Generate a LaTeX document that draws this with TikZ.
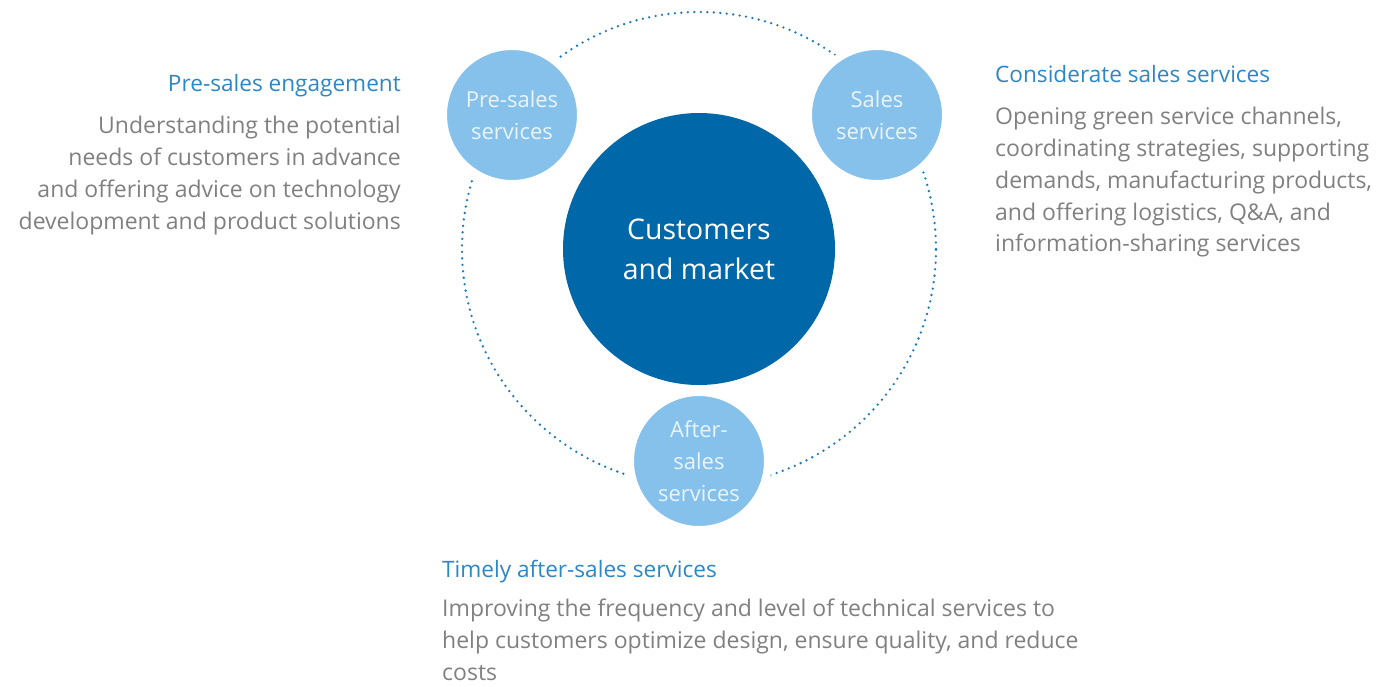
\documentclass[tikz,border=0pt]{standalone}
\usepackage{fontspec}
\setmainfont{Open Sans}
\usetikzlibrary{positioning}
\definecolor{hubblue}{HTML}{0067A8}
\definecolor{satblue}{HTML}{85C1EB}
\definecolor{sattext}{HTML}{EAF4FB}
\definecolor{ringblue}{HTML}{1E78BE}
\definecolor{headblue}{HTML}{2D86C6}
\definecolor{bodygray}{HTML}{808080}
\begin{document}
\begin{tikzpicture}
  [x=1pt,y=-1pt,
   hub/.style={circle,fill=hubblue,text=white,minimum size=272pt,inner sep=0pt,
     align=center,font=\fontsize{28.4}{40}\selectfont},
   sat/.style={circle,fill=satblue,draw=white,line width=8pt,minimum size=138pt,
     inner sep=0pt,text=sattext,align=center,font=\fontsize{22}{32}\selectfont},
   head/.style={inner sep=0pt,text=headblue,font=\fontsize{22.6}{32}\selectfont},
   body/.style={inner sep=0pt,text=bodygray,font=\fontsize{23}{31.8}\selectfont}]
  \useasboundingbox (0,0) rectangle (1377,687);
  % dotted ring
  \draw[ringblue,line width=2.6pt,line cap=round,dash pattern=on 0pt off 6.5pt]
    (699,249) circle (237pt);
  \node[hub] (market) at (699,249) {Customers\\and market};
  \node[sat] (pre) at (512,115) {Pre-sales\\services};
  \node[sat] (sales) at (877,115) {Sales\\services};
  \node[sat] (after) at (699,461) {After-\\sales\\services};
  % texts
  \node[head,anchor=base east] (prehead) at (401,92) {Pre-sales engagement};
  \node[body,below=24pt of prehead.base east,anchor=north east,align=right] (prebody)
    {Understanding the potential\\needs of customers in advance\\and offering advice on technology\\development and product solutions};
  \node[head,anchor=base west] (saleshead) at (995,83) {Considerate sales services};
  \node[body,below=24pt of saleshead.base west,anchor=north west,align=left] (salesbody)
    {Opening green service channels,\\coordinating strategies, supporting\\demands, manufacturing products,\\and offering logistics, Q\&A, and\\information-sharing services};
  \node[head,anchor=base west] (afterhead) at (442,577) {Timely after-sales services};
  \node[body,below=22pt of afterhead.base west,anchor=north west,align=left] (afterbody)
    {Improving the frequency and level of technical services to\\help customers optimize design, ensure quality, and reduce\\costs};
\end{tikzpicture}
\end{document}
